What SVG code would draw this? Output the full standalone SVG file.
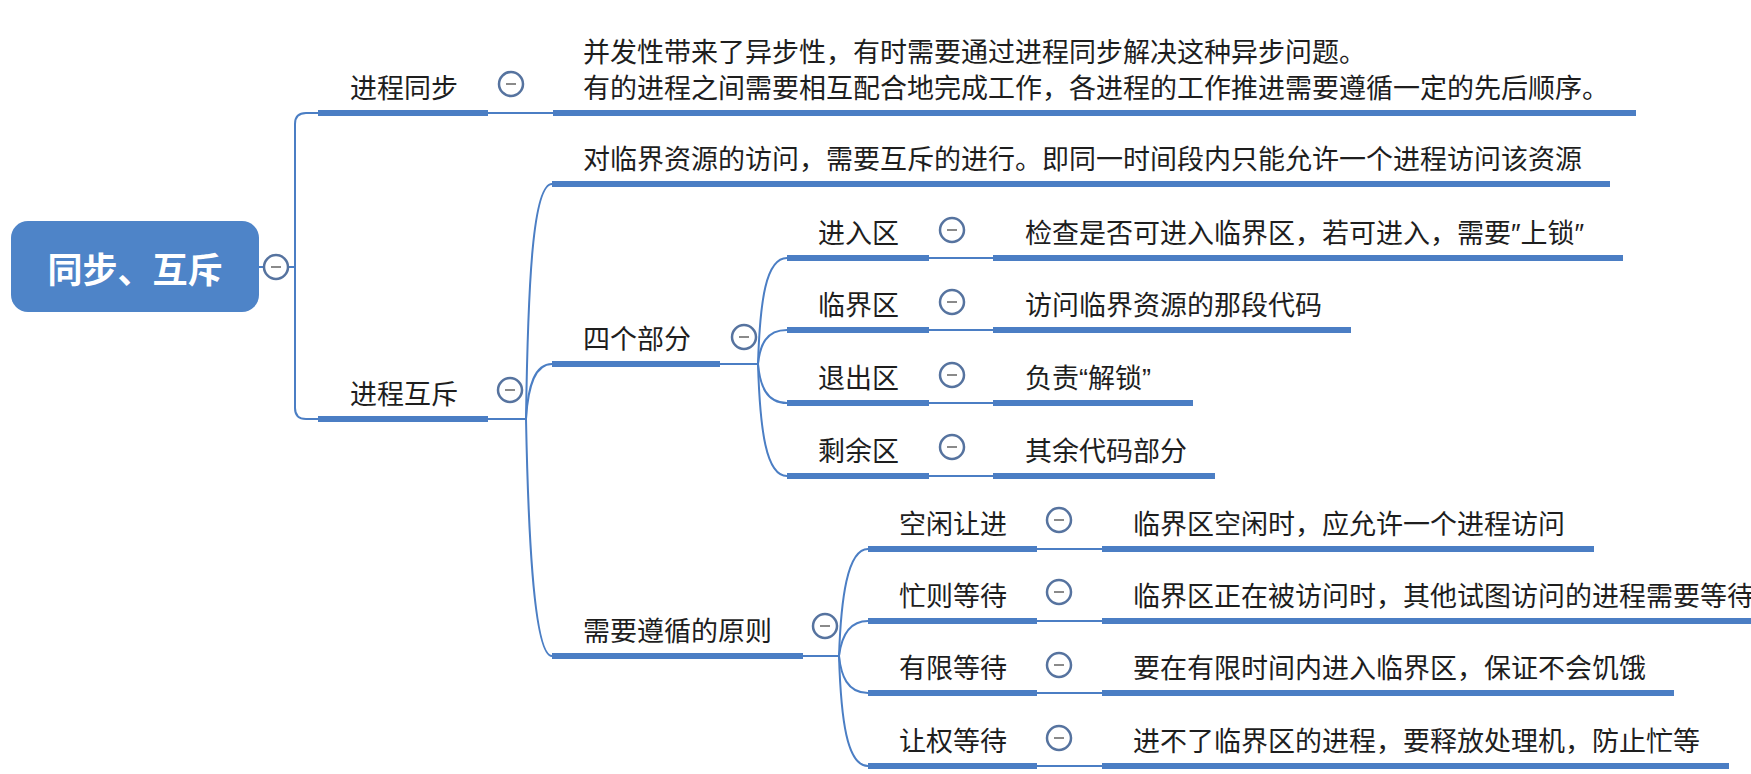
<svg xmlns="http://www.w3.org/2000/svg" width="1751" height="774" viewBox="0 0 1751 774">
<style>
  .t { font-family: "Liberation Sans", "Noto Sans CJK SC", sans-serif; font-size: 27px; fill: #1e1e1e; }
  .root-t { font-family: "Noto Sans CJK SC", sans-serif; font-size: 35px; font-weight: bold; fill: #ffffff; }
  .bar { stroke: #4b7ec4; stroke-width: 6; stroke-linecap: butt; fill: none; }
  .con { stroke: #4b7ec4; stroke-width: 2; fill: none; }
</style>
<defs>
  <g id="minus">
    <circle cx="0" cy="0" r="12" fill="#ffffff" stroke="#56739f" stroke-width="2.5"/>
    <line x1="-5" y1="0" x2="5" y2="0" stroke="#8a8a8a" stroke-width="2"/>
  </g>
</defs>
<rect width="1751" height="774" fill="#ffffff"/>

<g id="connectors">
  <line class="con" x1="259" y1="267" x2="295" y2="267"/>
  <path class="con" d="M318 113 H306 Q295 113 295 124 V408 Q295 419 306 419 H318"/>
  <line class="con" x1="488" y1="113" x2="553" y2="113"/>
  <line class="con" x1="488" y1="419" x2="526" y2="419"/>
  <path class="con" d="M526 419 C528 280 533 184 552 184"/>
  <path class="con" d="M526 419 C528 385 535 364 552 364"/>
  <path class="con" d="M526 419 C528 520 533 656 552 656"/>
  <line class="con" x1="720" y1="364" x2="758" y2="364"/>
  <path class="con" d="M758 364 C760 300 766 258 787 258"/>
  <path class="con" d="M758 364 C760 345 766 330 787 330"/>
  <path class="con" d="M758 364 C760 385 766 403 787 403"/>
  <path class="con" d="M758 364 C760 430 766 476 787 476"/>
  <line class="con" x1="929" y1="258" x2="993" y2="258"/>
  <line class="con" x1="929" y1="330" x2="993" y2="330"/>
  <line class="con" x1="929" y1="403" x2="993" y2="403"/>
  <line class="con" x1="929" y1="476" x2="993" y2="476"/>
  <line class="con" x1="803" y1="656" x2="839" y2="656"/>
  <path class="con" d="M839 656 C841 600 847 549 868 549"/>
  <path class="con" d="M839 656 C841 640 847 621 868 621"/>
  <path class="con" d="M839 656 C841 675 847 693 868 693"/>
  <path class="con" d="M839 656 C841 720 847 766 868 766"/>
  <line class="con" x1="1037" y1="549" x2="1102" y2="549"/>
  <line class="con" x1="1037" y1="621" x2="1102" y2="621"/>
  <line class="con" x1="1037" y1="693" x2="1102" y2="693"/>
  <line class="con" x1="1037" y1="766" x2="1102" y2="766"/>
</g>

<g id="root">
  <rect x="11" y="221" width="248" height="91" rx="17" fill="#4e84c8"/>
  <text class="root-t" x="135" y="283" text-anchor="middle">同步、互斥</text>
  <use href="#minus" x="276" y="267"/>
</g>

<g id="n-sync">
  <text class="t" x="350" y="98">进程同步</text>
  <line class="bar" x1="318" y1="113" x2="488" y2="113"/>
  <use href="#minus" x="511" y="84"/>
</g>
<g id="n-sync-desc">
  <text class="t" x="583" y="62">并发性带来了异步性，有时需要通过进程同步解决这种异步问题。</text>
  <text class="t" x="583" y="98">有的进程之间需要相互配合地完成工作，各进程的工作推进需要遵循一定的先后顺序。</text>
  <line class="bar" x1="553" y1="113" x2="1636" y2="113"/>
</g>

<g id="n-mutex">
  <text class="t" x="350" y="404">进程互斥</text>
  <line class="bar" x1="318" y1="419" x2="488" y2="419"/>
  <use href="#minus" x="510" y="390"/>
</g>
<g id="n-mutex-desc">
  <text class="t" x="583" y="169">对临界资源的访问，需要互斥的进行。即同一时间段内只能允许一个进程访问该资源</text>
  <line class="bar" x1="552" y1="184" x2="1610" y2="184"/>
</g>

<g id="n-four">
  <text class="t" x="583" y="349">四个部分</text>
  <line class="bar" x1="552" y1="364" x2="720" y2="364"/>
  <use href="#minus" x="744" y="337"/>
</g>

<g id="n-enter">
  <text class="t" x="818" y="243">进入区</text>
  <line class="bar" x1="787" y1="258" x2="929" y2="258"/>
  <use href="#minus" x="952" y="230"/>
</g>
<g id="n-enter-desc">
  <text class="t" x="1025" y="243">检查是否可进入临界区，若可进入，需要″上锁″</text>
  <line class="bar" x1="993" y1="258" x2="1623" y2="258"/>
</g>
<g id="n-critical">
  <text class="t" x="818" y="315">临界区</text>
  <line class="bar" x1="787" y1="330" x2="929" y2="330"/>
  <use href="#minus" x="952" y="302"/>
</g>
<g id="n-critical-desc">
  <text class="t" x="1025" y="315">访问临界资源的那段代码</text>
  <line class="bar" x1="993" y1="330" x2="1351" y2="330"/>
</g>
<g id="n-exit">
  <text class="t" x="818" y="388">退出区</text>
  <line class="bar" x1="787" y1="403" x2="929" y2="403"/>
  <use href="#minus" x="952" y="375"/>
</g>
<g id="n-exit-desc">
  <text class="t" x="1025" y="388">负责“解锁”</text>
  <line class="bar" x1="993" y1="403" x2="1193" y2="403"/>
</g>
<g id="n-remain">
  <text class="t" x="818" y="461">剩余区</text>
  <line class="bar" x1="787" y1="476" x2="929" y2="476"/>
  <use href="#minus" x="952" y="447"/>
</g>
<g id="n-remain-desc">
  <text class="t" x="1025" y="461">其余代码部分</text>
  <line class="bar" x1="993" y1="476" x2="1215" y2="476"/>
</g>

<g id="n-principles">
  <text class="t" x="583" y="641">需要遵循的原则</text>
  <line class="bar" x1="552" y1="656" x2="803" y2="656"/>
  <use href="#minus" x="825" y="626"/>
</g>

<g id="n-idle">
  <text class="t" x="899" y="534">空闲让进</text>
  <line class="bar" x1="868" y1="549" x2="1037" y2="549"/>
  <use href="#minus" x="1059" y="520"/>
</g>
<g id="n-idle-desc">
  <text class="t" x="1133" y="534">临界区空闲时，应允许一个进程访问</text>
  <line class="bar" x1="1102" y1="549" x2="1594" y2="549"/>
</g>
<g id="n-busy">
  <text class="t" x="899" y="606">忙则等待</text>
  <line class="bar" x1="868" y1="621" x2="1037" y2="621"/>
  <use href="#minus" x="1059" y="592"/>
</g>
<g id="n-busy-desc">
  <text class="t" x="1133" y="606">临界区正在被访问时，其他试图访问的进程需要等待</text>
  <line class="bar" x1="1102" y1="621" x2="1751" y2="621"/>
</g>
<g id="n-bounded">
  <text class="t" x="899" y="678">有限等待</text>
  <line class="bar" x1="868" y1="693" x2="1037" y2="693"/>
  <use href="#minus" x="1059" y="665"/>
</g>
<g id="n-bounded-desc">
  <text class="t" x="1133" y="678">要在有限时间内进入临界区，保证不会饥饿</text>
  <line class="bar" x1="1102" y1="693" x2="1674" y2="693"/>
</g>
<g id="n-yield">
  <text class="t" x="899" y="751">让权等待</text>
  <line class="bar" x1="868" y1="766" x2="1037" y2="766"/>
  <use href="#minus" x="1059" y="738"/>
</g>
<g id="n-yield-desc">
  <text class="t" x="1133" y="751">进不了临界区的进程，要释放处理机，防止忙等</text>
  <line class="bar" x1="1102" y1="766" x2="1729" y2="766"/>
</g>
</svg>
